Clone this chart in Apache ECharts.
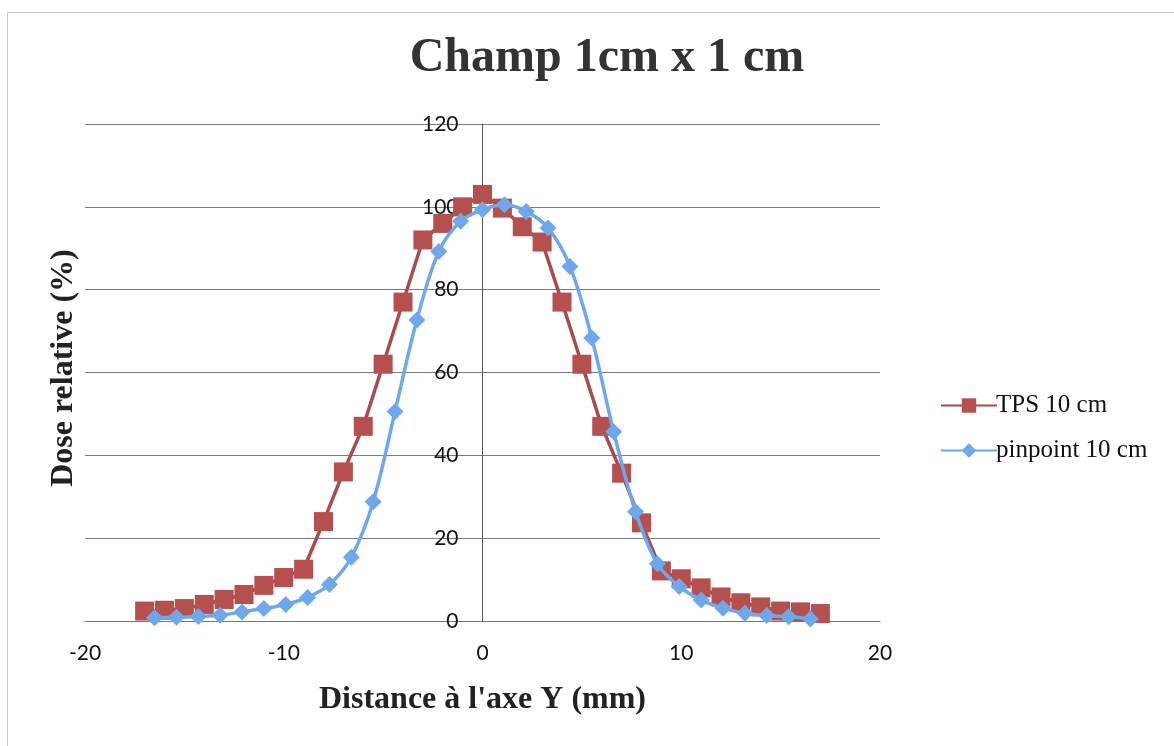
<!DOCTYPE html>
<html>
<head>
<meta charset="utf-8">
<script src="https://cdn.jsdelivr.net/npm/echarts@6/dist/echarts.min.js"></script>
<style>
  html, body { margin: 0; padding: 0; background: #fff; }
  #chart { width: 1174px; height: 746px; }
</style>
</head>
<body>
<div id="chart"></div>
<script>
// Profil de dose, champ 1 cm x 1 cm, profondeur 10 cm
const tpsX = [-17, -16, -15, -14, -13, -12, -11, -10, -9, -8, -7, -6, -5, -4, -3, -2, -1, 0,
              1, 2, 3, 4, 5, 6, 7, 8, 9, 10, 11, 12, 13, 14, 15, 16, 17];
const tpsDose = [2.4, 2.6, 3.0, 4.0, 5.2, 6.4, 8.6, 10.5, 12.5, 24, 36, 47, 62, 77, 92, 96, 100, 103,
                 99.7, 95.2, 91.5, 77, 62, 47, 35.7, 23.7, 12.1, 10.2, 8.0, 5.8, 4.4, 3.4, 2.4, 2.2, 1.8];

const pinX = [-16.5, -15.4, -14.3, -13.2, -12.1, -11.0, -9.9, -8.8, -7.7, -6.6, -5.5, -4.4, -3.3, -2.2, -1.1, 0,
              1.1, 2.2, 3.3, 4.4, 5.5, 6.6, 7.7, 8.8, 9.9, 11.0, 12.1, 13.2, 14.3, 15.4, 16.5];
const pinDose = [0.8, 0.9, 1.1, 1.4, 2.2, 3.0, 4.0, 5.7, 8.8, 15.4, 28.8, 50.6, 72.7, 89.2, 96.5, 99.3,
                 100.5, 98.9, 94.9, 85.6, 68.3, 45.7, 26.4, 13.8, 8.3, 5.1, 3.1, 1.9, 1.3, 1.0, 0.5];

const xTicks = { min: -20, max: 20, step: 10 };
const yTicks = { min: 0, max: 120, step: 20 };

const seriesNames = ['TPS 10 cm', 'pinpoint 10 cm'];
const titleText = 'Champ 1cm x 1 cm';
const xTitle = "Distance à l'axe Y (mm)";
const yTitle = 'Dose relative (%)';

const RED = '#b5504f';
const BLUE = '#6ea8ec';
const SERIF = '"Liberation Serif", "Times New Roman", serif';
const SANS = 'Lato, "Open Sans", sans-serif';

// Plot box in pixels
const GRID = { left: 85, right: 294, top: 124, bottom: 125 };
const plotWidth = 1174 - GRID.left - GRID.right;
// The value axis sits at x = 0, which is the middle of the symmetric x range
const yAxisShift = plotWidth * (0 - xTicks.min) / (xTicks.max - xTicks.min);

const chart = echarts.init(document.getElementById('chart'), null, { renderer: 'canvas' });

chart.setOption({
  backgroundColor: '#ffffff',
  animation: false,
  title: {
    text: titleText,
    left: 602,
    top: 30,
    textAlign: 'center',
    textStyle: { fontFamily: SERIF, fontWeight: 'bold', fontSize: 48, color: '#333' }
  },
  legend: {
    orient: 'vertical',
    left: 935,
    top: 388,
    itemWidth: 56,
    itemHeight: 18,
    itemGap: 20,
    textStyle: { fontFamily: SERIF, fontSize: 25, color: '#111', padding: [0, 0, 0, -6] },
    data: seriesNames
  },
  grid: { left: GRID.left, right: GRID.right, top: GRID.top, bottom: GRID.bottom, containLabel: false },
  xAxis: {
    type: 'value',
    min: xTicks.min,
    max: xTicks.max,
    interval: xTicks.step,
    name: xTitle,
    nameLocation: 'middle',
    nameGap: 63,
    nameTextStyle: { fontFamily: SERIF, fontWeight: 'bold', fontSize: 32, color: '#222' },
    axisLine: { show: true, lineStyle: { color: '#777', width: 1 } },
    axisTick: { show: false },
    splitLine: { show: false },
    axisLabel: { fontFamily: SANS, fontSize: 21, color: '#111', margin: 22 }
  },
  yAxis: {
    type: 'value',
    min: yTicks.min,
    max: yTicks.max,
    interval: yTicks.step,
    offset: -yAxisShift,
    axisLine: { show: true, onZero: false, lineStyle: { color: '#555', width: 1 } },
    axisTick: { show: false },
    splitLine: { show: true, lineStyle: { color: '#7a7a7a', width: 1.2 } },
    axisLabel: { fontFamily: SANS, fontSize: 21, color: '#111', margin: 24 }
  },
  graphic: [
    {
      type: 'rect',
      shape: { x: 7.5, y: 12.5, width: 1200, height: 800 },
      style: { fill: 'none', stroke: '#c8c8c8', lineWidth: 1 },
      silent: true,
      z: -10
    },
    {
      type: 'text',
      x: 64,
      y: 368,
      rotation: Math.PI / 2,
      style: {
        text: yTitle,
        fontFamily: SERIF,
        fontWeight: 'bold',
        fontSize: 32,
        fill: '#222',
        align: 'center',
        verticalAlign: 'middle'
      }
    }
  ],
  series: [
    {
      name: seriesNames[0],
      type: 'line',
      data: tpsX.map((x, i) => [x, tpsDose[i]]),
      symbol: 'rect',
      symbolSize: 19,
      smooth: false,
      lineStyle: { color: '#a94a4c', width: 3.5 },
      itemStyle: { color: RED, borderWidth: 0 },
      z: 2
    },
    {
      name: seriesNames[1],
      type: 'line',
      data: pinX.map((x, i) => [x, pinDose[i]]),
      symbol: 'diamond',
      symbolSize: 17,
      smooth: 0.35,
      lineStyle: { color: BLUE, width: 3.5 },
      itemStyle: { color: BLUE, borderWidth: 0 },
      z: 3
    }
  ]
});
</script>
</body>
</html>
